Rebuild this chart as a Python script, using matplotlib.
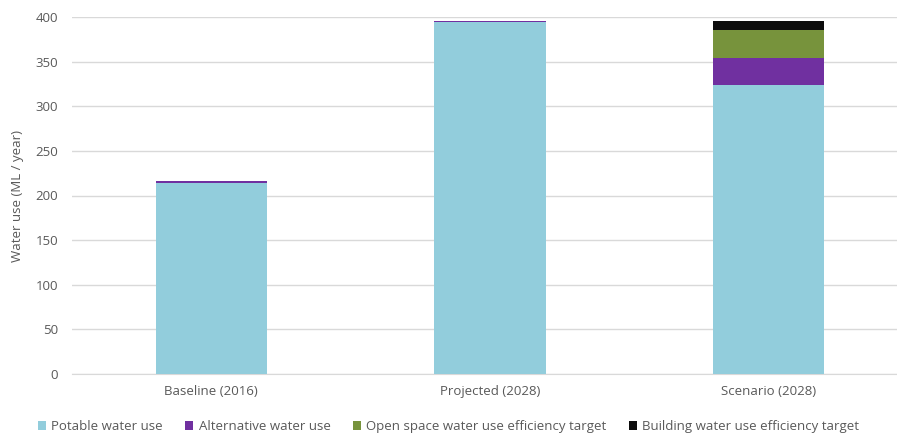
import numpy as np
import matplotlib
matplotlib.use("Agg")
from matplotlib import pyplot as plt

categories = ["Baseline (2016)", "Projected (2028)", "Scenario (2028)"]
potable = [214, 394, 324]
alternative = [2, 1.5, 30.5]
open_space = [0, 0, 31]
building = [0, 0, 10]

series = [
    ("Potable water use", potable, "#92cddc"),
    ("Alternative water use", alternative, "#7030a0"),
    ("Open space water use efficiency target", open_space, "#77933c"),
    ("Building water use efficiency target", building, "#0d0d0d"),
]

plt.rcParams['font.family'] = ['Open Sans', 'DejaVu Sans']
grey = "#595959"

fig = plt.figure(figsize=(8.97, 4.34), dpi=100)
ax = fig.add_axes([72 / 897, (434 - 374) / 434, (908 - 72) / 897, 357 / 434])

x = np.arange(len(categories))
bottom = np.zeros(len(categories))
for name, vals, col in series:
    vals = np.array(vals, dtype=float)
    ax.bar(x, vals, 0.4, bottom=bottom, color=col, label=name, zorder=3)
    bottom += vals

ax.set_xlim(-0.5, 2.5)
ax.set_ylim(0, 400)
ax.set_yticks(range(0, 401, 50))
ax.set_xticks(x)
ax.set_xticklabels(categories)
ax.grid(axis='y', color="#d9d9d9", linewidth=1, zorder=0)
for s in ["top", "right", "left"]:
    ax.spines[s].set_visible(False)
ax.spines["bottom"].set_color("#d9d9d9")
ax.tick_params(axis='both', length=0, colors=grey, labelsize=9.5)
ax.tick_params(axis='y', pad=10)
ax.tick_params(axis='x', pad=8)
ax.set_ylabel("Water use (ML / year)", color=grey, fontsize=9.5, labelpad=8)

fig.legend(loc="lower center", bbox_to_anchor=(0.5, -0.025), ncol=4, frameon=False,
           fontsize=9.5, labelcolor=grey, handlelength=0.6, handleheight=0.6,
           handletextpad=0.4, columnspacing=1.7)

fig.savefig("out.png", dpi=100)
